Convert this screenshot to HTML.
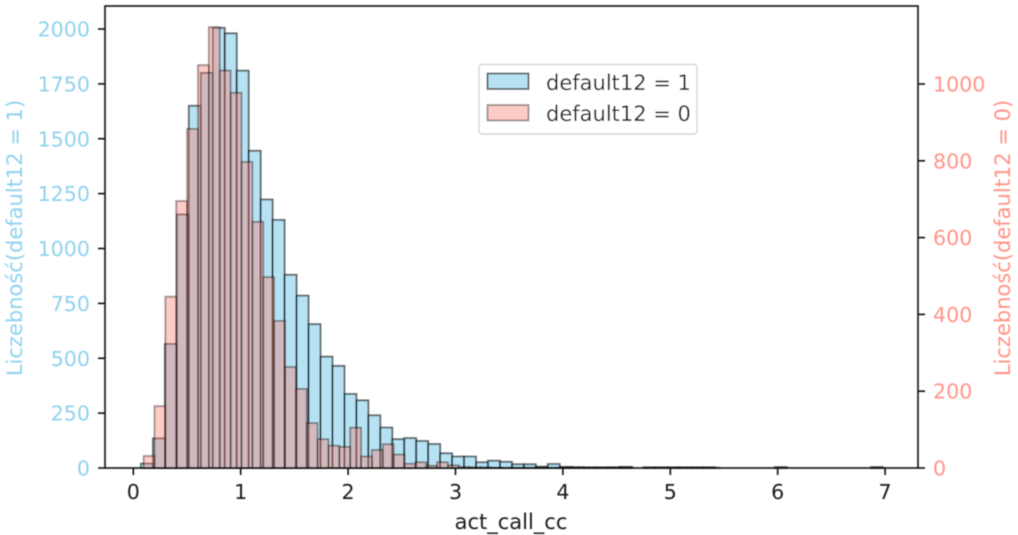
<!DOCTYPE html>
<html>
<head>
<meta charset="utf-8">
<style>
html,body{margin:0;padding:0;background:#fff;width:1018px;height:535px;overflow:hidden}
svg{display:block}
text{font-family:"DejaVu Sans",sans-serif;font-size:20.6px}
text.big{font-size:21px}
</style>
</head>
<body>
<svg id="chart" xmlns="http://www.w3.org/2000/svg" width="1018" height="535" viewBox="0 0 1018 535">
<defs><filter id="soft" x="-5%" y="-5%" width="110%" height="110%"><feGaussianBlur stdDeviation="0.45"/></filter></defs>
<g id="root" filter="url(#soft)">
<g id="bars1"></g>
<g id="bars0"></g>
<g id="axes"></g>
<text class="big" x="511" y="529" text-anchor="middle" fill="#1c1c1c">act_call_cc</text>
<text class="big" transform="translate(22,238) rotate(-90)" text-anchor="middle" fill="#90D2EE">Liczebność(default12 = 1)</text>
<text class="big" transform="translate(1010,238) rotate(-90)" text-anchor="middle" fill="#FF9488">Liczebność(default12 = 0)</text>
<g>
<rect x="479" y="64.5" width="218" height="69.5" rx="3" fill="#fff" fill-opacity="0.8" stroke="#d6d6d6" stroke-width="1.4"/>
<rect x="487.500" y="73.500" width="41" height="15.500" fill="#87CEEB" fill-opacity="0.6" stroke="#000" stroke-opacity="0.6" stroke-width="1.8"/>
<text class="big" x="546" y="90" fill="#1c1c1c">default12 = 1</text>
<rect x="487.500" y="105" width="41" height="15.500" fill="#FA8072" fill-opacity="0.4" stroke="#000" stroke-opacity="0.4" stroke-width="1.8"/>
<text class="big" x="546" y="121" fill="#1c1c1c">default12 = 0</text>
</g>
</g>
</svg>
<script>
const xTicks = [0, 1, 2, 3, 4, 5, 6, 7];
const leftTicks = [0, 250, 500, 750, 1000, 1250, 1500, 1750, 2000];
const rightTicks = [0, 200, 400, 600, 800, 1000];
const binStart1 = 0.0717;
const binWidth1 = 0.1114;
const binStart0 = 0.0968;
const binWidth0 = 0.1012;
const counts1 = [20,135,565,1155,1650,1800,2005,1980,1810,1445,1223,1130,880,785,655,507,465,337,308,240,184,131,136,123,109,67,52,52,26,33,28,17,17,6,18,5,4,3,3,3,5,0,3,3,3,3,3,3,0,0,0,0,0,4,0,0,0,0,0,0,0,4];
const counts0 = [31,161,446,695,883,1049,1148,1035,977,797,641,497,383,263,206,117,75,58,55,105,30,47,62,35,11,15,6,15,7,3,2,2,1,1,1,1,1,1,1,1,1,1,1,2,2,0,1,1,1,1,1,1,1,0,0,0,0,0,1,0,0,0,0,0,0,0,0,1];

const NS = 'http://www.w3.org/2000/svg';
const plotLeft = 105, plotRight = 918, plotTop = 6, plotBottom = 468;
function xScale(v) { return 133.3 + v * 107.4; }
function yLeft(v) { return plotBottom - v * 0.2195; }
function yRight(v) { return plotBottom - v * 0.384; }

function drawBars(parent, counts, start, width, yFn, fill, fillOpacity, strokeOpacity, name) {
  counts.forEach(function (c, i) {
    if (c <= 0) return;
    const x0 = xScale(start + i * width);
    const x1 = xScale(start + (i + 1) * width);
    const r = document.createElementNS(NS, 'rect');
    r.setAttribute('x', x0);
    r.setAttribute('y', yFn(c));
    r.setAttribute('width', x1 - x0);
    r.setAttribute('height', plotBottom - yFn(c));
    r.setAttribute('fill', fill);
    r.setAttribute('fill-opacity', fillOpacity);
    r.setAttribute('stroke', '#000');
    r.setAttribute('stroke-opacity', strokeOpacity);
    r.setAttribute('stroke-width', '1.8');
    
    
    parent.appendChild(r);
  });
}
drawBars(document.getElementById('bars1'), counts1, binStart1, binWidth1, yLeft, '#87CEEB', 0.6, 0.6, 'bar-default12-1');
drawBars(document.getElementById('bars0'), counts0, binStart0, binWidth0, yRight, '#FA8072', 0.4, 0.4, 'bar-default12-0');

const axes = document.getElementById('axes');
function addLine(x1, y1, x2, y2, name) {
  const l = document.createElementNS(NS, 'line');
  l.setAttribute('x1', x1);
  l.setAttribute('y1', y1);
  l.setAttribute('x2', x2);
  l.setAttribute('y2', y2);
  l.setAttribute('stroke', '#111');
  l.setAttribute('stroke-width', '1.6');
  
  
  axes.appendChild(l);
}
function addText(x, y, s, anchor, fill, name) {
  const t = document.createElementNS(NS, 'text');
  t.setAttribute('x', x);
  t.setAttribute('y', y);
  t.setAttribute('text-anchor', anchor);
  t.setAttribute('fill', fill);
  t.textContent = s;
  
  
  axes.appendChild(t);
}
const frame = document.createElementNS(NS, 'rect');
frame.setAttribute('x', plotLeft);
frame.setAttribute('y', plotTop);
frame.setAttribute('width', plotRight - plotLeft);
frame.setAttribute('height', plotBottom - plotTop);
frame.setAttribute('fill', 'none');
frame.setAttribute('stroke', '#111');
frame.setAttribute('stroke-width', '1.6');


axes.appendChild(frame);

xTicks.forEach(function (v) {
  addLine(xScale(v), plotBottom, xScale(v), plotBottom + 7, 'x-tick');
  addText(xScale(v), 499, String(v), 'middle', '#1c1c1c', 'x-tick-label');
});
leftTicks.forEach(function (v) {
  addLine(plotLeft - 7, yLeft(v), plotLeft, yLeft(v), 'left-y-tick');
  addText(plotLeft - 15, yLeft(v) + 7.5, String(v), 'end', '#90D2EE', 'left-y-tick-label');
});
rightTicks.forEach(function (v) {
  addLine(plotRight, yRight(v), plotRight + 7, yRight(v), 'right-y-tick');
  addText(plotRight + 15, yRight(v) + 7.5, String(v), 'start', '#FF9488', 'right-y-tick-label');
});
</script>
</body>
</html>
